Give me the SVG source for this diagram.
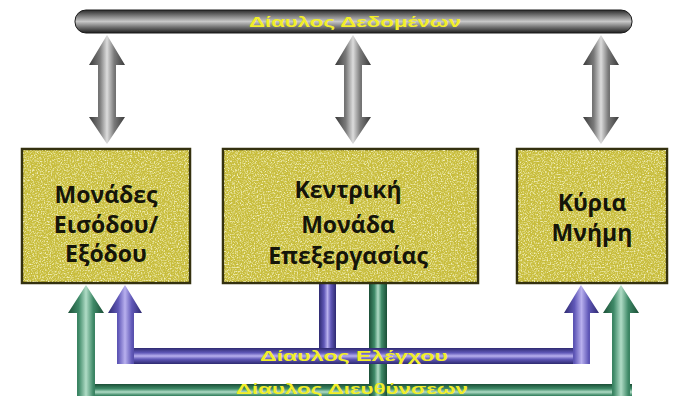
<svg xmlns="http://www.w3.org/2000/svg" width="688" height="396" viewBox="0 0 688 396">
<style>
.box{fill:#c8bd3c;stroke:#34310f;stroke-width:2.5}
.bt{font-family:"Open Sans","Liberation Sans",sans-serif;font-weight:700;font-size:23px;fill:#15150a;text-anchor:middle}
.lbl{font-family:"Liberation Sans","DejaVu Sans",sans-serif;font-weight:700;font-size:15px;fill:#f2ee2a;text-anchor:middle}
</style>
<defs>
<linearGradient id="gH" x1="0" y1="0" x2="0" y2="1">
<stop offset="0" stop-color="#2a2a2a"/><stop offset="0.3" stop-color="#8a8a8a"/><stop offset="0.5" stop-color="#c8c8c8"/><stop offset="0.75" stop-color="#707070"/><stop offset="1" stop-color="#1e1e1e"/>
</linearGradient>
<linearGradient id="gV" x1="0" y1="0" x2="1" y2="0">
<stop offset="0" stop-color="#3a3a3a"/><stop offset="0.3" stop-color="#7a7a7a"/><stop offset="0.5" stop-color="#dcdcdc"/><stop offset="0.7" stop-color="#7a7a7a"/><stop offset="1" stop-color="#3a3a3a"/>
</linearGradient>
<linearGradient id="pV" x1="0" y1="0" x2="1" y2="0">
<stop offset="0" stop-color="#2e2a70"/><stop offset="0.3" stop-color="#6058b8"/><stop offset="0.5" stop-color="#b8b0ee"/><stop offset="0.7" stop-color="#6058b8"/><stop offset="1" stop-color="#2e2a70"/>
</linearGradient>
<linearGradient id="pH" x1="0" y1="0" x2="0" y2="1">
<stop offset="0" stop-color="#2e2a70"/><stop offset="0.3" stop-color="#6058b8"/><stop offset="0.5" stop-color="#b8b0ee"/><stop offset="0.7" stop-color="#6058b8"/><stop offset="1" stop-color="#2e2a70"/>
</linearGradient>
<linearGradient id="nV" x1="0" y1="0" x2="1" y2="0">
<stop offset="0" stop-color="#1b4e36"/><stop offset="0.3" stop-color="#3f8a68"/><stop offset="0.5" stop-color="#b0dcc6"/><stop offset="0.7" stop-color="#3f8a68"/><stop offset="1" stop-color="#1b4e36"/>
</linearGradient>
<linearGradient id="nH" x1="0" y1="0" x2="0" y2="1">
<stop offset="0" stop-color="#1b4e36"/><stop offset="0.3" stop-color="#3f8a68"/><stop offset="0.5" stop-color="#b0dcc6"/><stop offset="0.7" stop-color="#3f8a68"/><stop offset="1" stop-color="#1b4e36"/>
</linearGradient>
<filter id="noise" x="0" y="0" width="100%" height="100%">
<feTurbulence type="fractalNoise" baseFrequency="0.7" numOctaves="2" seed="5"/>
<feColorMatrix type="matrix" values="0 0 0 0 0.88  0 0 0 0 0.86  0 0 0 0 0.5  0 0 0 3 -1.35"/>
<feComposite in2="SourceGraphic" operator="in"/>
</filter>
</defs>

<g id="data-bus">
<rect x="75" y="10" width="557" height="23" rx="11" fill="url(#gH)" stroke="#1a1a1a" stroke-width="1"/>
<text class="lbl" x="355" y="27" textLength="212" lengthAdjust="spacingAndGlyphs">Δίαυλος Δεδομένων</text>
</g>

<g id="connectors">
<path d="M107,35 L125,65 L116,65 L116,117 L125,117 L107,144 L89,117 L98,117 L98,65 L89,65 Z" fill="url(#gV)"/>
<path d="M353,35 L371,65 L362,65 L362,117 L371,117 L353,144 L335,117 L344,117 L344,65 L335,65 Z" fill="url(#gV)"/>
<path d="M601,35 L619,65 L610,65 L610,117 L619,117 L601,144 L583,117 L592,117 L592,65 L583,65 Z" fill="url(#gV)"/>

<rect x="77" y="384" width="555" height="16" fill="url(#nH)"/>
<rect x="369" y="283" width="18" height="117" fill="url(#nV)"/>
<path d="M86,285 L104,313 L95,313 L95,400 L77,400 L77,313 L68,313 Z" fill="url(#nV)"/>
<path d="M621,285 L639,313 L630,313 L630,400 L612,400 L612,313 L603,313 Z" fill="url(#nV)"/>

<rect x="319" y="283" width="17" height="70" fill="url(#pV)"/>
<rect x="117" y="348" width="473" height="16" fill="url(#pH)"/>
<path d="M125,285 L142,313 L134,313 L134,364 L117,364 L117,313 L108,313 Z" fill="url(#pV)"/>
<path d="M581,285 L599,313 L590,313 L590,364 L573,364 L573,313 L564,313 Z" fill="url(#pV)"/>

<text class="lbl" x="354" y="361" textLength="188" lengthAdjust="spacingAndGlyphs">Δίαυλος Ελέγχου</text>
<text class="lbl" x="352" y="394" font-size="14" textLength="232" lengthAdjust="spacingAndGlyphs">Δίαυλος Διευθύνσεων</text>
</g>

<g id="io">
<rect class="box" x="22" y="149" width="168" height="134"/>
<rect x="23" y="150" width="166" height="132" fill="#c8bd3c" filter="url(#noise)"/>
<text class="bt" x="106" y="203">Μονάδες</text>
<text class="bt" x="106" y="233">Εισόδου/</text>
<text class="bt" x="106" y="262">Εξόδου</text>
</g>

<g id="cpu">
<rect class="box" x="223" y="149" width="255" height="134"/>
<rect x="224" y="150" width="253" height="132" fill="#c8bd3c" filter="url(#noise)"/>
<text class="bt" x="348" y="198">Κεντρική</text>
<text class="bt" x="348" y="233">Μονάδα</text>
<text class="bt" x="348" y="264">Επεξεργασίας</text>
</g>

<g id="memory">
<rect class="box" x="517" y="149" width="150" height="134"/>
<rect x="518" y="150" width="148" height="132" fill="#c8bd3c" filter="url(#noise)"/>
<text class="bt" x="592" y="211">Κύρια</text>
<text class="bt" x="592" y="241">Μνήμη</text>
</g>
</svg>
